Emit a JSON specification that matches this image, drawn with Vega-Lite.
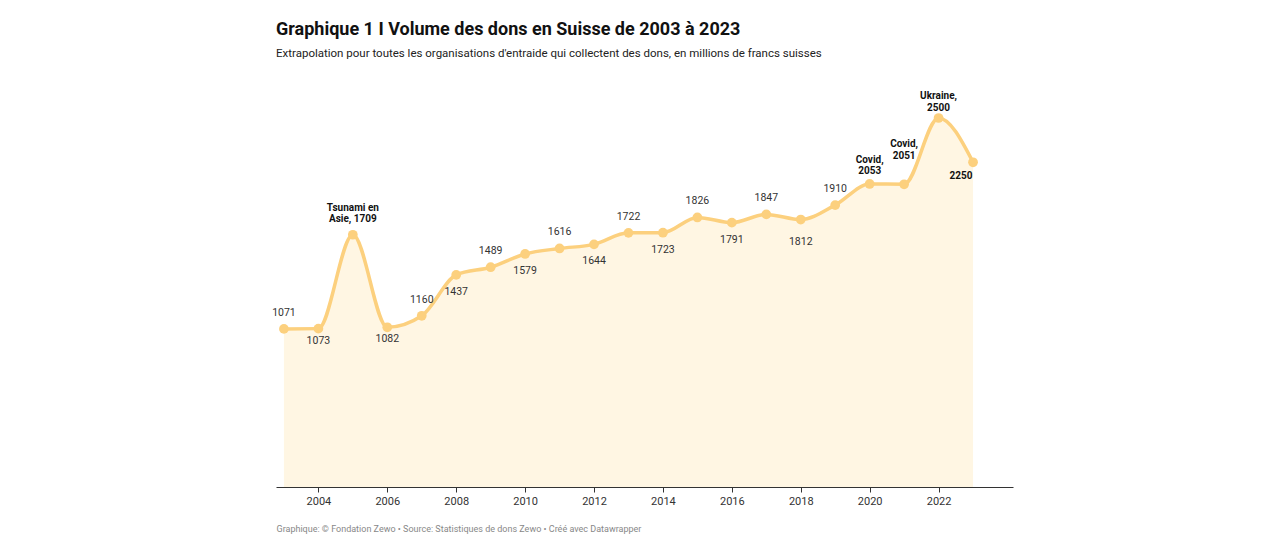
{
  "$schema": "https://vega.github.io/schema/vega-lite/v6.json",
  "width": 737,
  "height": 369,
  "autosize": {"type": "none"},
  "padding": {"left": 276, "top": 118, "right": 263, "bottom": 60},
  "background": "white",
  "config": {
    "font": "Roboto",
    "view": {"stroke": null},
    "text": {"lineBreak": "\n"}
  },
  "title": {
    "text": "Graphique 1 I Volume des dons en Suisse de 2003 à 2023",
    "subtitle": "Extrapolation pour toutes les organisations d'entraide qui collectent des dons, en millions de francs suisses",
    "anchor": "start",
    "frame": "group",
    "font": "Roboto",
    "fontSize": 18,
    "fontWeight": "bold",
    "color": "#111111",
    "subtitleFont": "Roboto",
    "subtitleFontSize": 11.5,
    "subtitleColor": "#222222",
    "subtitlePadding": 9,
    "offset": 32
  },
  "data": {
    "values": [
      {"year": 2003, "value": 1071, "label": "1071", "pos": "above", "bold": false},
      {"year": 2004, "value": 1073, "label": "1073", "pos": "below", "bold": false},
      {"year": 2005, "value": 1709, "label": "Tsunami en\nAsie, 1709", "pos": "above", "bold": true},
      {"year": 2006, "value": 1082, "label": "1082", "pos": "below", "bold": false},
      {"year": 2007, "value": 1160, "label": "1160", "pos": "above", "bold": false},
      {"year": 2008, "value": 1437, "label": "1437", "pos": "below", "bold": false},
      {"year": 2009, "value": 1489, "label": "1489", "pos": "above", "bold": false},
      {"year": 2010, "value": 1579, "label": "1579", "pos": "below", "bold": false},
      {"year": 2011, "value": 1616, "label": "1616", "pos": "above", "bold": false},
      {"year": 2012, "value": 1644, "label": "1644", "pos": "below", "bold": false},
      {"year": 2013, "value": 1722, "label": "1722", "pos": "above", "bold": false},
      {"year": 2014, "value": 1723, "label": "1723", "pos": "below", "bold": false},
      {"year": 2015, "value": 1826, "label": "1826", "pos": "above", "bold": false},
      {"year": 2016, "value": 1791, "label": "1791", "pos": "below", "bold": false},
      {"year": 2017, "value": 1847, "label": "1847", "pos": "above", "bold": false},
      {"year": 2018, "value": 1812, "label": "1812", "pos": "below", "bold": false},
      {"year": 2019, "value": 1910, "label": "1910", "pos": "above", "bold": false},
      {"year": 2020, "value": 2053, "label": "Covid,\n2053", "pos": "above", "bold": true},
      {"year": 2021, "value": 2051, "label": "Covid,\n2051", "pos": "above", "bold": true},
      {"year": 2022, "value": 2500, "label": "Ukraine,\n2500", "pos": "above", "bold": true},
      {"year": 2023, "value": 2200, "label": "2250", "pos": "below", "bold": true}
    ]
  },
  "encoding": {
    "x": {
      "field": "year",
      "type": "quantitative",
      "scale": {"domain": [2002.77, 2024.16], "nice": false, "zero": false},
      "axis": {
        "values": [2004, 2006, 2008, 2010, 2012, 2014, 2016, 2018, 2020, 2022],
        "format": "d",
        "grid": false,
        "domainColor": "#333333",
        "domainWidth": 1,
        "tickColor": "#333333",
        "tickSize": 5,
        "labelFont": "Roboto",
        "labelFontSize": 11,
        "labelColor": "#333333",
        "labelPadding": 3,
        "title": "Graphique: © Fondation Zewo • Source: Statistiques de dons Zewo • Créé avec Datawrapper",
        "titleFont": "Roboto",
        "titleFontSize": 9,
        "titleFontWeight": "normal",
        "titleColor": "#888888",
        "titleAnchor": "start",
        "titleAlign": "left",
        "titleX": 0,
        "titlePadding": 18
      }
    },
    "y": {
      "field": "value",
      "type": "quantitative",
      "scale": {"domain": [0, 2500], "nice": false},
      "axis": null
    }
  },
  "layer": [
    {"mark": {"type": "area", "interpolate": "monotone", "color": "#fff6e3", "opacity": 1}},
    {"mark": {"type": "line", "interpolate": "monotone", "color": "#fcd07e", "strokeWidth": 3.5}},
    {"mark": {"type": "point", "filled": true, "shape": "circle", "size": 95, "color": "#fcd07e", "opacity": 1}},
    {
      "transform": [{"filter": "datum.pos == 'above' && !datum.bold"}],
      "mark": {"type": "text", "baseline": "bottom", "dy": -11, "fontSize": 10.5, "color": "#333333"},
      "encoding": {"text": {"field": "label"}}
    },
    {
      "transform": [{"filter": "datum.year == 2004 || datum.year == 2006"}],
      "mark": {"type": "text", "baseline": "top", "dy": 7, "fontSize": 10.5, "color": "#333333"},
      "encoding": {"text": {"field": "label"}}
    },
    {
      "transform": [{"filter": "datum.pos == 'below' && !datum.bold && datum.year >= 2008 && datum.year <= 2016"}],
      "mark": {"type": "text", "baseline": "top", "dy": 12, "fontSize": 10.5, "color": "#333333"},
      "encoding": {"text": {"field": "label"}}
    },
    {
      "transform": [{"filter": "datum.year == 2018"}],
      "mark": {"type": "text", "baseline": "top", "dy": 17, "fontSize": 10.5, "color": "#333333"},
      "encoding": {"text": {"field": "label"}}
    },
    {
      "transform": [{"filter": "datum.year == 2005"}],
      "mark": {"type": "text", "baseline": "bottom", "dy": -22, "fontSize": 10, "fontWeight": "bold", "color": "#111111", "lineHeight": 11.5},
      "encoding": {"text": {"field": "label"}}
    },
    {
      "transform": [{"filter": "datum.year == 2020"}],
      "mark": {"type": "text", "baseline": "bottom", "dy": -19, "fontSize": 10, "fontWeight": "bold", "color": "#111111", "lineHeight": 11.5},
      "encoding": {"text": {"field": "label"}}
    },
    {
      "transform": [{"filter": "datum.year == 2021"}],
      "mark": {"type": "text", "baseline": "bottom", "dy": -35, "fontSize": 10, "fontWeight": "bold", "color": "#111111", "lineHeight": 11.5},
      "encoding": {"text": {"field": "label"}}
    },
    {
      "transform": [{"filter": "datum.year == 2022"}],
      "mark": {"type": "text", "baseline": "bottom", "dy": -17, "fontSize": 10, "fontWeight": "bold", "color": "#111111", "lineHeight": 11.5},
      "encoding": {"text": {"field": "label"}}
    },
    {
      "transform": [{"filter": "datum.year == 2023"}],
      "mark": {"type": "text", "baseline": "top", "dy": 9, "dx": -12, "fontSize": 10, "fontWeight": "bold", "color": "#111111"},
      "encoding": {"text": {"field": "label"}}
    }
  ]
}
